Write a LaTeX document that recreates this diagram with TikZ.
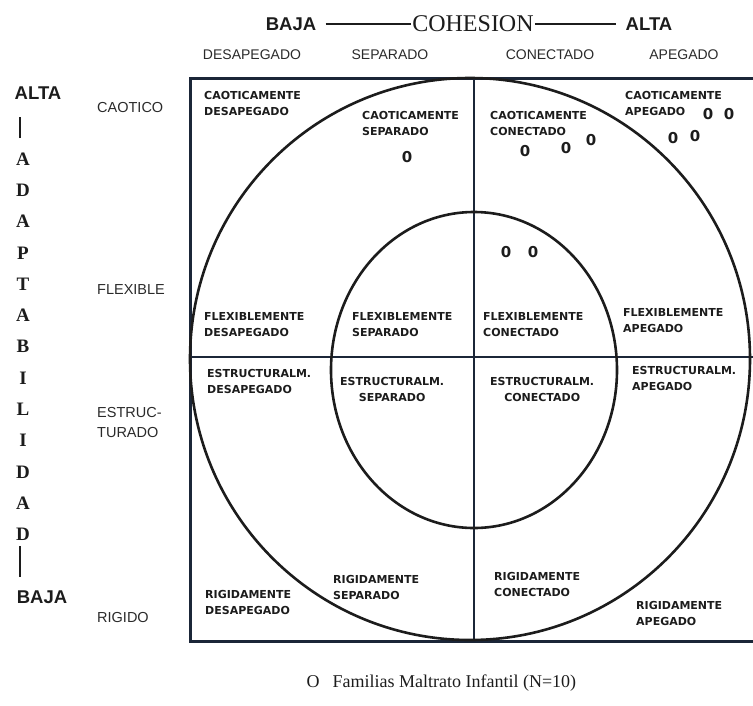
\documentclass[tikz,border=0pt]{standalone}
\usepackage{fontspec}
\setmainfont{Liberation Sans}
\newfontfamily\slabfont{Liberation Serif}
\newfontfamily\pixfont{DejaVu Sans}
\usepackage{xcolor}
\usetikzlibrary{positioning}

\definecolor{frameblue}{HTML}{1B2638}
\definecolor{ink}{HTML}{1C1C1C}
\definecolor{headgray}{HTML}{2A2A2A}

\begin{document}
\begin{tikzpicture}[x=1pt,y=-1pt]
      \tikzstyle{squareframe}=[draw=frameblue, line width=3pt]
      \tikzstyle{divider}=[draw=frameblue, line width=2.2pt]
      \tikzstyle{circumplex}=[draw=ink, line width=2.6pt]
      \tikzstyle{axisbold}=[font=\fontsize{18.5}{18.5}\selectfont\bfseries, text=ink]
      \tikzstyle{cohfont}=[font=\slabfont\fontsize{24}{24}\selectfont, text=ink, inner sep=1pt]
      \tikzstyle{rule}=[draw=ink, line width=2pt]
      \tikzstyle{colhead}=[font=\fontsize{14}{14}\selectfont, text=headgray]
      \tikzstyle{rowhead}=[font=\fontsize{14.5}{20}\selectfont, text=headgray, anchor=west, align=left, inner sep=0pt]
      \tikzstyle{vletter}=[font=\slabfont\fontsize{19}{19}\selectfont\bfseries, text=ink]
      \tikzstyle{cellbox}=[font=\pixfont\fontsize{11}{16}\selectfont\bfseries, text=ink, anchor=north west, inner sep=0pt, align=left]
      \tikzstyle{famzero}=[font=\pixfont\fontsize{15}{15}\selectfont\bfseries, text=ink, inner sep=0pt]
      \tikzstyle{legfont}=[font=\slabfont\fontsize{18}{18}\selectfont, text=ink]

      \useasboundingbox (0,0) rectangle (753,705);

      % square, dividers and the two circles
      \draw[squareframe] (765,78) -- (190,78) -- (190,641) -- (765,641);
      \draw[divider] (474,78) -- (474,641);
      \draw[divider, line width=2.8pt] (190,357) -- (765,357);
      \draw[circumplex] (470,359) ellipse [x radius=280pt, y radius=281pt];
      \draw[circumplex] (474,370) ellipse [x radius=143pt, y radius=158pt];

      % cohesion axis
      \node[axisbold] (bajaC) at (291,24) {BAJA};
      \node[cohfont] (cohesion) at (473,24) {COHESION};
      \node[axisbold] (altaC) at (649,24) {ALTA};
      \draw[rule, shorten <=6pt] (bajaC) -- (cohesion);
      \draw[rule, shorten >=6pt] (cohesion) -- (altaC);

      \node[colhead] (desapegado) at (252,55) {DESAPEGADO};
      \node[colhead] (separado) at (390,55) {SEPARADO};
      \node[colhead] (conectado) at (550,55) {CONECTADO};
      \node[colhead] (apegado) at (684,55) {APEGADO};

      % adaptabilidad axis
      \node[axisbold] (altaL) at (38,93) {ALTA};
      \foreach \l [count=\i from 0] in {A,D,A,P,T,A,B,I,L,I,D,A,D}
        \node[vletter] (l\i) at (23,159+31.3*\i) {\l};
      \node[axisbold] (bajaL) at (42,597) {BAJA};
      \draw[rule, line width=2.6pt] (l0.north) ++(-3,-11) -- ++(0,-21);
      \draw[rule, line width=2.6pt] (l12.south) ++(-3,2) -- ++(0,31);

      \node[rowhead] (caotico) at (97,108) {CAOTICO};
      \node[rowhead] (flexible) at (97,290) {FLEXIBLE};
      \node[rowhead] (estructurado) at (97,423) {ESTRUC-\\TURADO};
      \node[rowhead] (rigido) at (97,617) {RIGIDO};

      % the sixteen types
      \node[cellbox] (caoDes) at (204,91) {CAOTICAMENTE\\DESAPEGADO};
      \node[cellbox] (caoSep) at (362,111) {CAOTICAMENTE\\SEPARADO};
      \node[cellbox] (caoCon) at (490,111) {CAOTICAMENTE\\CONECTADO};
      \node[cellbox] (caoApe) at (625,91) {CAOTICAMENTE\\APEGADO};

      \node[cellbox] (flexDes) at (204,312) {FLEXIBLEMENTE\\DESAPEGADO};
      \node[cellbox] (flexSep) at (352,312) {FLEXIBLEMENTE\\SEPARADO};
      \node[cellbox] (flexCon) at (483,312) {FLEXIBLEMENTE\\CONECTADO};
      \node[cellbox] (flexApe) at (623,308) {FLEXIBLEMENTE\\APEGADO};

      \node[cellbox] (estDes) at (207,369) {ESTRUCTURALM.\\DESAPEGADO};
      \node[cellbox, align=center] (estSep) at (340,377) {ESTRUCTURALM.\\SEPARADO};
      \node[cellbox, align=center] (estCon) at (490,377) {ESTRUCTURALM.\\CONECTADO};
      \node[cellbox] (estApe) at (632,366) {ESTRUCTURALM.\\APEGADO};

      \node[cellbox] (rigDes) at (205,590) {RIGIDAMENTE\\DESAPEGADO};
      \node[cellbox] (rigSep) at (333,575) {RIGIDAMENTE\\SEPARADO};
      \node[cellbox] (rigCon) at (494,572) {RIGIDAMENTE\\CONECTADO};
      \node[cellbox] (rigApe) at (636,601) {RIGIDAMENTE\\APEGADO};

      % families
      \foreach \x/\y [count=\i] in {407/157, 525/151, 566/148, 591/140, 708/114,
                                   729/114, 673/138, 695/136, 506/252, 533/252}
        \node[famzero] (z\i) at (\x,\y) {0};

      % legend
      \node[legfont] (legmark) at (313,682) {O};
      \node[legfont, base right=6pt of legmark] (legtext) {Familias Maltrato Infantil (N=10)};
\end{tikzpicture}
\end{document}
